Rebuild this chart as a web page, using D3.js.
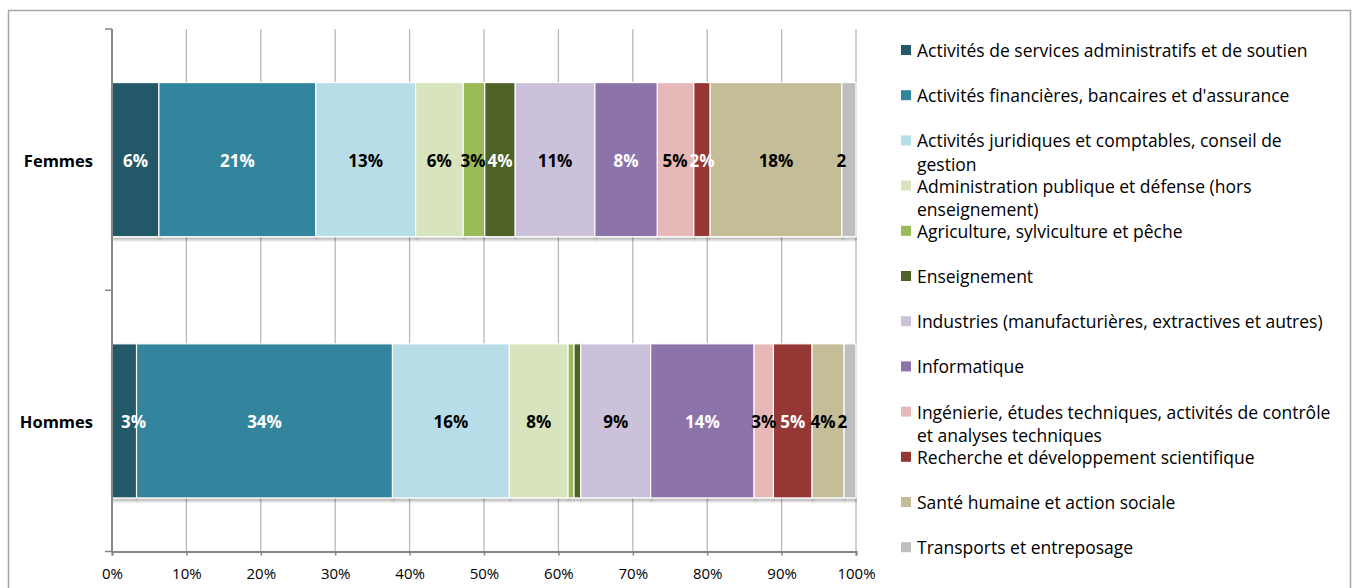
<!DOCTYPE html>
<html>
<head>
<meta charset="utf-8">
<script src="https://cdn.jsdelivr.net/npm/d3@7"></script>
<style>
  body { margin: 0; background: #fff; }
  svg { display: block; font-family: "Open Sans", Lato, sans-serif; }
</style>
</head>
<body>
<svg width="1357" height="588"></svg>
<script>
// categories (rows) and sectors (stack keys)
var categories = ["Femmes", "Hommes"];
var sectors = [
  "Activités de services administratifs et de soutien",
  "Activités financières, bancaires et d'assurance",
  "Activités juridiques et comptables, conseil de gestion",
  "Administration publique et défense (hors enseignement)",
  "Agriculture, sylviculture et pêche",
  "Enseignement",
  "Industries (manufacturières, extractives et autres)",
  "Informatique",
  "Ingénierie, études techniques, activités de contrôle et analyses techniques",
  "Recherche et développement scientifique",
  "Santé humaine et action sociale",
  "Transports et entreposage"
];
// shares in %
var femmes = [6.3, 21.1, 13.4, 6.4, 2.9, 4.1, 10.7, 8.4, 4.9, 2.2, 17.7, 1.9];
var hommes = [3.3, 34.4, 15.7, 7.9, 0.8, 0.9, 9.4, 13.9, 2.6, 5.2, 4.3, 1.6];
var xTicks = [0, 0.1, 0.2, 0.3, 0.4, 0.5, 0.6, 0.7, 0.8, 0.9, 1];

var colors = ["#215968", "#31859C", "#B7DEE8", "#D7E4BD", "#9BBB59", "#4F6228",
              "#CCC1DA", "#8C73AA", "#E6B9B8", "#953735", "#C4BD97", "#BFBFBF"];
var whiteLabel = [true, true, false, false, false, true, false, true, false, true, false, false];

var svg = d3.select("svg");

// chart border
svg.append("rect")
  .attr("x", 8.5).attr("y", 10.5)
  .attr("width", 1342).attr("height", 600)
  .attr("fill", "none").attr("stroke", "#a6a6a6").attr("stroke-width", 1.5);

var plot = { left: 112, right: 856, top: 29, bottom: 551.5 };

var x = d3.scaleLinear().domain([0, 1]).range([plot.left, plot.right]);
var y = d3.scaleBand().domain(categories).range([plot.top, plot.bottom])
  .paddingInner(0.41).paddingOuter(0.205);
var yBand = d3.scaleBand().domain(categories).range([plot.top, plot.bottom]);

// build rows for the stack
var rows = categories.map(function (c, i) {
  var vals = i === 0 ? femmes : hommes;
  var r = { cat: c };
  sectors.forEach(function (s, j) { r[s] = vals[j]; });
  return r;
});
var series = d3.stack().keys(sectors).offset(d3.stackOffsetExpand)(rows);

// shadow filter
var defs = svg.append("defs");
var f = defs.append("filter").attr("id", "shadow")
  .attr("x", "-5%").attr("y", "-5%").attr("width", "110%").attr("height", "120%");
f.append("feDropShadow").attr("dx", 1).attr("dy", 3).attr("stdDeviation", 1)
  .attr("flood-color", "#000").attr("flood-opacity", 0.25);

// gridlines
svg.append("g")
  .selectAll("line")
  .data(xTicks.slice(1))
  .enter().append("line")
  .attr("x1", function (d) { return x(d); })
  .attr("x2", function (d) { return x(d); })
  .attr("y1", plot.top).attr("y2", plot.bottom)
  .attr("stroke", "#b3b3b3").attr("stroke-width", 1.2);

// bars
var layer = svg.append("g").selectAll("g")
  .data(series)
  .enter().append("g")
  .attr("fill", function (d, i) { return colors[i]; });

layer.selectAll("rect")
  .data(function (d) { return d; })
  .enter().append("rect")
  .attr("x", function (d) { return x(d[0]); })
  .attr("width", function (d) { return x(d[1]) - x(d[0]); })
  .attr("y", function (d) { return y(d.data.cat); })
  .attr("height", y.bandwidth())
  .attr("stroke", "#fff").attr("stroke-width", 1.2)
  .attr("filter", "url(#shadow)");

// data labels, one row at a time so that neighbours can be nudged apart
var labelLayer = svg.append("g");
categories.forEach(function (cat, r) {
  var placed = [];
  series.forEach(function (s, i) {
    var d = s[r];
    var v = d.data[s.key];
    if (v < 1.5) return;
    var num = String(Math.round(v));
    var cx = (x(d[0]) + x(d[1])) / 2;
    var t = labelLayer.append("text")
      .attr("y", y(cat) + y.bandwidth() / 2 + 1)
      .attr("text-anchor", "start")
      .attr("dominant-baseline", "central")
      .attr("font-weight", "bold")
      .attr("font-size", 17)
      .attr("fill", whiteLabel[i] ? "#fff" : "#000")
      .text(num + "%");
    var w = t.node().getComputedTextLength();
    var left = Math.max(cx - w / 2, plot.left + 9);
    if (left + w > plot.right + 1) {
      // label runs past the plot: the % sign gets cut
      t.text(num);
      w = t.node().getComputedTextLength();
    }
    placed.push({ t: t, left: left, w: w });
  });
  // push overlapping labels leftwards, starting from the right end
  for (var k = placed.length - 2; k >= 0; k--) {
    var over = placed[k].left + placed[k].w + 2 - placed[k + 1].left;
    if (over > 0) placed[k].left -= over;
  }
  placed.forEach(function (p) { p.t.attr("x", p.left); });
});

// y axis line and ticks
svg.append("line")
  .attr("x1", plot.left).attr("x2", plot.left)
  .attr("y1", plot.top).attr("y2", plot.bottom)
  .attr("stroke", "#868686").attr("stroke-width", 2);
svg.append("g").selectAll("line")
  .data([plot.top, yBand.step() + plot.top, plot.bottom])
  .enter().append("line")
  .attr("x1", plot.left - 7).attr("x2", plot.left)
  .attr("y1", function (d) { return d; }).attr("y2", function (d) { return d; })
  .attr("stroke", "#868686").attr("stroke-width", 1.5);

// x axis
var xAxis = svg.append("g")
  .attr("transform", "translate(0," + plot.bottom + ")")
  .call(d3.axisBottom(x).tickValues(xTicks).tickFormat(d3.format(".0%")).tickSize(4).tickPadding(13));
xAxis.select(".domain").attr("stroke", "#868686").attr("stroke-width", 2);
xAxis.selectAll(".tick line").attr("stroke", "#868686").attr("stroke-width", 1.5);
xAxis.selectAll(".tick text")
  .attr("font-family", "'Open Sans', sans-serif")
  .attr("font-size", 15).attr("fill", "#000");

// category labels
svg.append("g").selectAll("text")
  .data(categories)
  .enter().append("text")
  .attr("x", 93)
  .attr("y", function (d) { return yBand(d) + yBand.bandwidth() / 2 + 1; })
  .attr("text-anchor", "end")
  .attr("dominant-baseline", "central")
  .attr("font-weight", "bold")
  .attr("font-size", 16.5)
  .text(function (d) { return d; });

// legend
var ly = d3.scalePoint().domain(sectors).range([50, 547.2]);
var legend = svg.append("g");
sectors.forEach(function (s, i) {
  var g = legend.append("g").attr("transform", "translate(0," + ly(s) + ")");
  g.append("rect")
    .attr("x", 901).attr("y", -5).attr("width", 10).attr("height", 10)
    .attr("fill", colors[i]);
  var t = g.append("text")
    .attr("x", 917).attr("y", 0)
    .attr("dominant-baseline", "central")
    .attr("font-size", 17.5).attr("fill", "#000");
  // wrap words to the legend width
  var words = s.split(" "), line = [];
  var ts = t.append("tspan").attr("x", 917).attr("dy", 0);
  words.forEach(function (w) {
    line.push(w);
    ts.text(line.join(" "));
    if (ts.node().getComputedTextLength() > 428 && line.length > 1) {
      line.pop();
      ts.text(line.join(" "));
      line = [w];
      ts = t.append("tspan").attr("x", 917).attr("dy", 23.5).text(w);
    }
  });
});
</script>
</body>
</html>
